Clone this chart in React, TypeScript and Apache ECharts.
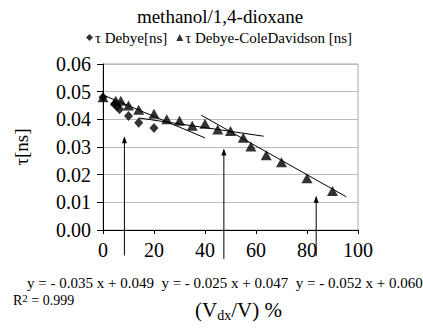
import React, { useEffect, useRef } from "react";
import * as echarts from "echarts";

const debyeX = [0, 4.5, 5.5, 6.5, 10, 14, 20];
const debyeY = [0.048, 0.0455, 0.0446, 0.0436, 0.0412, 0.0388, 0.0369];
const coleX = [0, 5, 7, 10, 14, 20, 25, 30, 35, 40, 45, 50, 55, 58, 64, 70, 80, 90];
const coleY = [0.048, 0.0467, 0.0467, 0.045, 0.0435, 0.042, 0.04, 0.0395, 0.0377, 0.0384, 0.0363, 0.0358, 0.0333, 0.0302, 0.027, 0.0245, 0.0187, 0.0141];
const fit1 = [[0, 0.0488], [40, 0.0333]];
const fit2 = [[14, 0.0405], [63, 0.0339]];
const fit3 = [[38.5, 0.0415], [95.4, 0.012]];
const arrow1 = [[8.4, -0.0092], [8.4, 0.0333]];
const arrow2 = [[47.4, -0.0105], [47.4, 0.0289]];
const arrow3 = [[83.6, -0.0095], [83.6, 0.0118]];
const yTicks = [0, 0.01, 0.02, 0.03, 0.04, 0.05, 0.06];
const xTicks = [0, 20, 40, 60, 80, 100];
const equations = "y = - 0.035 x + 0.049  y = - 0.025 x + 0.047  y = - 0.052 x + 0.060";
const title = "methanol/1,4-dioxane";
const legendNames = ["τ Debye[ns]", "τ Debye-ColeDavidson [ns]"];

const FONT = "Liberation Serif";

export default function App() {
  const ref = useRef<HTMLDivElement>(null);
  useEffect(() => {
    const chart = echarts.init(ref.current!, null, { renderer: "svg" });
    const lineSeries = (d: number[][]) => ({
      type: "line",
      data: d,
      symbol: "none",
      lineStyle: { color: "#000", width: 1 },
      silent: true,
      z: 1,
    });
    const arrowSeries = (d: number[][]) => ({
      type: "line",
      clip: false,
      data: [
        { value: d[0], symbol: "none" },
        { value: d[1], symbol: "triangle", symbolSize: [5, 7], symbolOffset: [0, 2] },
      ],
      showSymbol: true,
      lineStyle: { color: "#000", width: 1 },
      itemStyle: { color: "#000" },
      silent: true,
      z: 1,
    });
    chart.setOption({
      animation: false,
      backgroundColor: "#fff",
      textStyle: { fontFamily: FONT, color: "#000" },
      title: {
        text: title,
        left: 215,
        textAlign: "center",
        top: 2,
        textStyle: { fontFamily: FONT, fontSize: 19, fontWeight: "normal", color: "#000" },
      },
      legend: {
        data: [
          { name: legendNames[0], icon: "diamond" },
          { name: legendNames[1], icon: "triangle" },
        ],
        left: 81,
        top: 25,
        itemWidth: 7,
        itemHeight: 7,
        itemGap: 9,
        textStyle: { fontFamily: FONT, fontSize: 15, color: "#000", padding: [0, 0, 0, -3] },
      },
      grid: { left: 103, right: 65, top: 64, bottom: 104, show: true, borderColor: "#aaa", borderWidth: 1 },
      xAxis: {
        type: "value",
        min: 0,
        max: 100,
        interval: 20,
        axisLine: { show: true, onZero: false, lineStyle: { color: "#000", width: 1 } },
        axisTick: { show: true, length: 4, lineStyle: { color: "#000" } },
        splitLine: { show: false },
        axisLabel: {
          fontFamily: FONT,
          fontSize: 20,
          color: "#000",
          margin: 10,
          formatter: (v: number) => (xTicks.includes(v) ? String(v) : ""),
        },
      },
      yAxis: {
        type: "value",
        min: 0,
        max: 0.06,
        interval: 0.01,
        name: "τ[ns]",
        nameLocation: "middle",
        nameGap: 72,
        nameTextStyle: { fontFamily: FONT, fontSize: 19, color: "#000" },
        axisLine: { show: true, lineStyle: { color: "#000", width: 1 } },
        axisTick: { show: true, length: 6, lineStyle: { color: "#000" } },
        splitLine: { show: true, lineStyle: { color: "#bbb", width: 1 } },
        axisLabel: {
          fontFamily: FONT,
          fontSize: 20,
          color: "#000",
          margin: 12,
          formatter: (v: number) => {
            const t = yTicks.find((k) => Math.abs(k - v) < 1e-9);
            return t === undefined ? "" : t.toFixed(2);
          },
        },
      },
      series: [
        lineSeries(fit1),
        lineSeries(fit2),
        lineSeries(fit3),
        arrowSeries(arrow1),
        arrowSeries(arrow2),
        arrowSeries(arrow3),
        {
          name: legendNames[0],
          type: "scatter",
          data: debyeX.map((x, i) => [x, debyeY[i]]),
          symbol: "diamond",
          symbolSize: [9, 10],
          itemStyle: { color: "#000" },
          z: 3,
        },
        {
          name: legendNames[1],
          type: "scatter",
          data: coleX.map((x, i) => [x, coleY[i]]),
          symbol: "triangle",
          symbolSize: [11, 10],
          itemStyle: { color: "#000" },
          z: 3,
        },
      ],
      graphic: [
        {
          type: "text",
          left: 27,
          top: 275,
          style: { text: equations, fontFamily: FONT, fontSize: 15, fill: "#000" },
        },
        {
          type: "text",
          left: 13,
          top: 292,
          style: {
            text: "R{sup|2} = 0.999",
            fontFamily: FONT,
            fontSize: 14,
            fill: "#000",
            rich: { sup: { fontFamily: FONT, fontSize: 11, verticalAlign: "top", padding: [0, 0, 6, 0] } },
          },
        },
        {
          type: "text",
          left: 195,
          top: 299,
          style: {
            text: "(V{sub|dx}/V) %",
            fontFamily: FONT,
            fontSize: 21,
            fill: "#000",
            rich: { sub: { fontFamily: FONT, fontSize: 14, padding: [11, 0, 0, 0] } },
          },
        },
      ],
    });
    return () => chart.dispose();
  }, []);
  return <div ref={ref} style={{ width: 423, height: 334, position: "absolute", left: 0, top: 0 }} />;
}
